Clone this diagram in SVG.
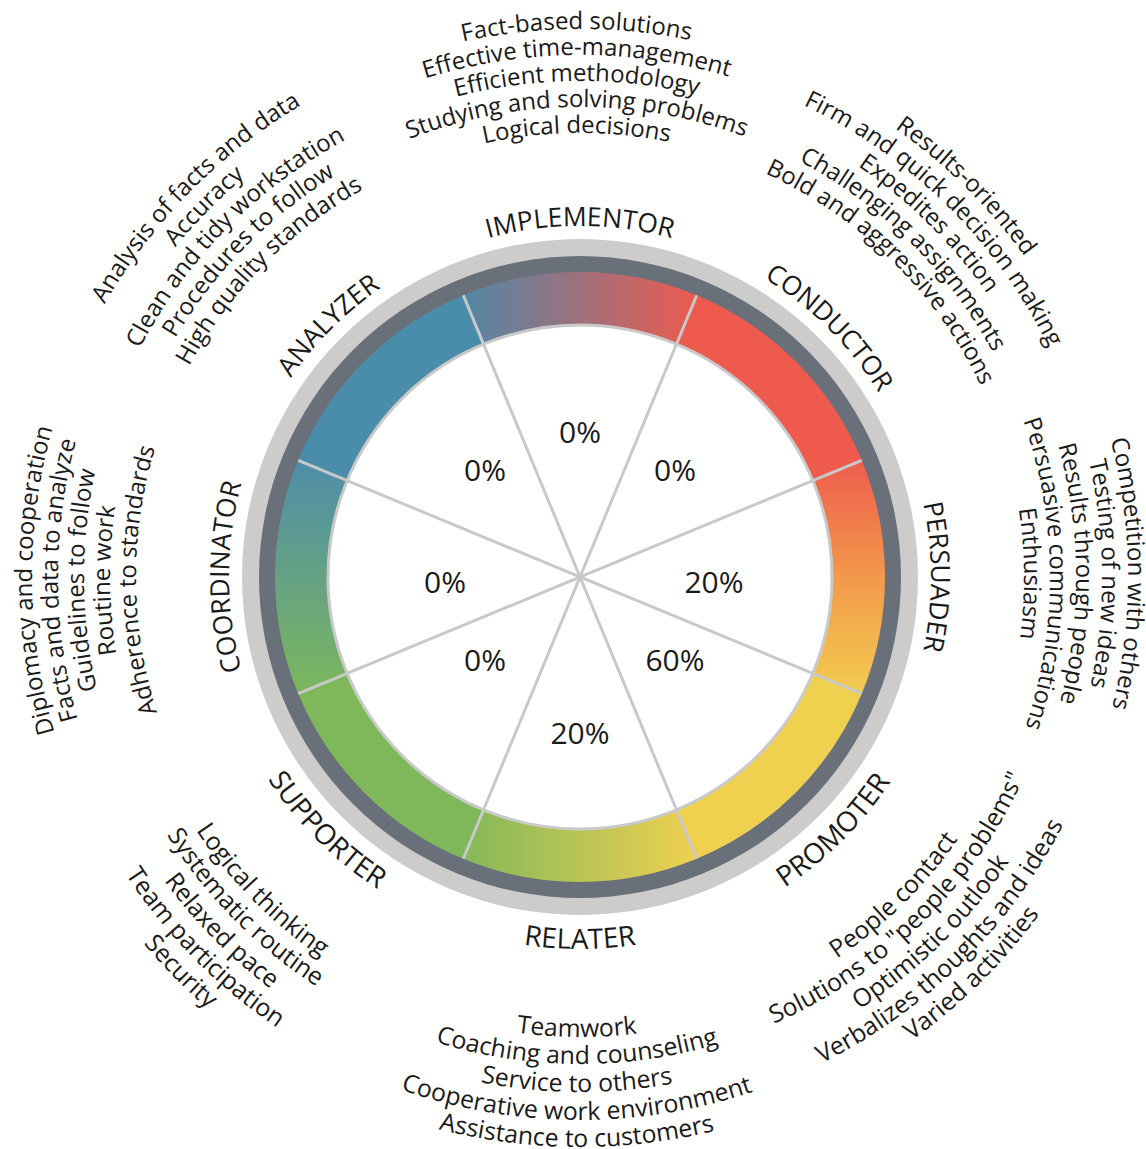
<svg xmlns="http://www.w3.org/2000/svg" width="1146" height="1149" viewBox="0 0 1146 1149">
<style>
  text{font-family:"Open Sans","Liberation Sans",sans-serif;fill:#1a1a1a}
  .lbl{font-size:26.5px}
  .lblb{font-size:28px}
  .desc{font-size:24px}
  .descb{font-size:24.8px}
  .pct{font-size:30px;text-anchor:middle}
  .sep{stroke:#c9c9c9;stroke-width:3;fill:none}
  textPath{text-anchor:middle}
</style>
<defs>
  <linearGradient id="gImp" gradientUnits="userSpaceOnUse" x1="463" y1="0" x2="697" y2="0">
    <stop offset="0" stop-color="#5187a7"/><stop offset="1" stop-color="#ee5a4f"/>
  </linearGradient>
  <linearGradient id="gPer" gradientUnits="userSpaceOnUse" x1="0" y1="460" x2="0" y2="694">
    <stop offset="0" stop-color="#ee5c4e"/><stop offset="0.5" stop-color="#f3994b"/><stop offset="1" stop-color="#f1cc4f"/>
  </linearGradient>
  <linearGradient id="gRel" gradientUnits="userSpaceOnUse" x1="463" y1="0" x2="697" y2="0">
    <stop offset="0" stop-color="#83b95a"/><stop offset="1" stop-color="#efd050"/>
  </linearGradient>
  <linearGradient id="gCoo" gradientUnits="userSpaceOnUse" x1="0" y1="460" x2="0" y2="694">
    <stop offset="0" stop-color="#4e8dab"/><stop offset="1" stop-color="#7cb75c"/>
  </linearGradient>
  <path id="cw351" d="M234.33,516.05 A351,351 0 0 1 925.67,516.05"/>
  <path id="cw548" d="M40.32,481.84 A548,548 0 0 1 1119.68,481.84"/>
  <path id="cw522" d="M65.93,486.35 A522,522 0 0 1 1094.07,486.35"/>
  <path id="cw496" d="M91.53,490.87 A496,496 0 0 1 1068.47,490.87"/>
  <path id="cw470" d="M117.14,495.38 A470,470 0 0 1 1042.86,495.38"/>
  <path id="cw444" d="M142.74,499.90 A444,444 0 0 1 1017.26,499.90"/>
  <path id="ccw372" d="M213.65,641.60 A372,372 0 0 0 946.35,641.60"/>
  <path id="ccw460" d="M126.99,656.88 A460,460 0 0 0 1033.01,656.88"/>
  <path id="ccw487" d="M100.40,661.57 A487,487 0 0 0 1059.60,661.57"/>
  <path id="ccw515" d="M72.82,666.43 A515,515 0 0 0 1087.18,666.43"/>
  <path id="ccw543" d="M45.25,671.29 A543,543 0 0 0 1114.75,671.29"/>
  <path id="ccw570" d="M18.66,675.98 A570,570 0 0 0 1141.34,675.98"/>
</defs>
<rect width="1146" height="1149" fill="#ffffff"/>

<g id="wheel">
  <circle cx="580" cy="577" r="338" fill="#cdcccb"/>
  <circle cx="580" cy="577" r="321" fill="#69707a"/>
  <circle cx="580" cy="577" r="252" fill="#ffffff"/>
</g>

<g id="implementor">
  <path d="M463.28,295.22 A305,305 0 0 1 696.72,295.22 L676.43,344.18 A252,252 0 0 0 483.57,344.18 Z" fill="url(#gImp)"/>
  <text class="pct" x="580" y="443">0%</text>
  <text class="lbl"><textPath href="#cw351" startOffset="50%">IMPLEMENTOR</textPath></text>
  <text class="desc"><textPath href="#cw548" startOffset="761.65">Fact-based solutions</textPath></text>
  <text class="desc"><textPath href="#cw522" startOffset="725.35">Effective time-management</textPath></text>
  <text class="desc"><textPath href="#cw496" startOffset="689.05">Efficient methodology</textPath></text>
  <text class="desc"><textPath href="#cw470" startOffset="652.74">Studying and solving problems</textPath></text>
  <text class="desc"><textPath href="#cw444" startOffset="616.44">Logical decisions</textPath></text>
</g>

<g id="conductor">
  <path d="M696.72,295.22 A305,305 0 0 1 861.78,460.28 L812.82,480.57 A252,252 0 0 0 676.43,344.18 Z" fill="#ef5a4e"/>
  <text class="pct" x="675" y="481">0%</text>
  <g transform="rotate(45 580 577)">
    <text class="lbl"><textPath href="#cw351" startOffset="50%">CONDUCTOR</textPath></text>
    <text class="desc"><textPath href="#cw548" startOffset="761.65">Results-oriented</textPath></text>
    <text class="desc"><textPath href="#cw522" startOffset="725.35">Firm and quick decision making</textPath></text>
    <text class="desc"><textPath href="#cw496" startOffset="689.05">Expedites action</textPath></text>
    <text class="desc"><textPath href="#cw470" startOffset="652.74">Challenging assignments</textPath></text>
    <text class="desc"><textPath href="#cw444" startOffset="616.44">Bold and aggressive actions</textPath></text>
  </g>
</g>

<g id="persuader">
  <path d="M861.78,460.28 A305,305 0 0 1 861.78,693.72 L812.82,673.43 A252,252 0 0 0 812.82,480.57 Z" fill="url(#gPer)"/>
  <text class="pct" x="714" y="593">20%</text>
  <g transform="rotate(90 580 577)">
    <text class="lbl"><textPath href="#cw351" startOffset="50%">PERSUADER</textPath></text>
    <text class="desc"><textPath href="#cw548" startOffset="761.65">Competition with others</textPath></text>
    <text class="desc"><textPath href="#cw522" startOffset="725.35">Testing of new ideas</textPath></text>
    <text class="desc"><textPath href="#cw496" startOffset="689.05">Results through people</textPath></text>
    <text class="desc"><textPath href="#cw470" startOffset="652.74">Persuasive communications</textPath></text>
    <text class="desc"><textPath href="#cw444" startOffset="616.44">Enthusiasm</textPath></text>
  </g>
</g>

<g id="promoter">
  <path d="M861.78,693.72 A305,305 0 0 1 696.72,858.78 L676.43,809.82 A252,252 0 0 0 812.82,673.43 Z" fill="#f0d14f"/>
  <text class="pct" x="675" y="671">60%</text>
  <g transform="rotate(-45 580 577)">
    <text class="lblb"><textPath href="#ccw372" startOffset="50%">PROMOTER</textPath></text>
    <text class="descb"><textPath href="#ccw460" startOffset="638.78">People contact</textPath></text>
    <text class="descb"><textPath href="#ccw487" startOffset="676.48">Solutions to "people problems"</textPath></text>
    <text class="descb"><textPath href="#ccw515" startOffset="715.58">Optimistic outlook</textPath></text>
    <text class="descb"><textPath href="#ccw543" startOffset="754.67">Verbalizes thoughts and ideas</textPath></text>
    <text class="descb"><textPath href="#ccw570" startOffset="792.37">Varied activities</textPath></text>
  </g>
</g>

<g id="relater">
  <path d="M696.72,858.78 A305,305 0 0 1 463.28,858.78 L483.57,809.82 A252,252 0 0 0 676.43,809.82 Z" fill="url(#gRel)"/>
  <text class="pct" x="580" y="744">20%</text>
  <text class="lblb"><textPath href="#ccw372" startOffset="50%">RELATER</textPath></text>
  <text class="descb"><textPath href="#ccw460" startOffset="638.78">Teamwork</textPath></text>
  <text class="descb"><textPath href="#ccw487" startOffset="676.48">Coaching and counseling</textPath></text>
  <text class="descb"><textPath href="#ccw515" startOffset="715.58">Service to others</textPath></text>
  <text class="descb"><textPath href="#ccw543" startOffset="754.67">Cooperative work environment</textPath></text>
  <text class="descb"><textPath href="#ccw570" startOffset="792.37">Assistance to customers</textPath></text>
</g>

<g id="supporter">
  <path d="M463.28,858.78 A305,305 0 0 1 298.22,693.72 L347.18,673.43 A252,252 0 0 0 483.57,809.82 Z" fill="#7eb85b"/>
  <text class="pct" x="485" y="671">0%</text>
  <g transform="rotate(45 580 577)">
    <text class="lblb"><textPath href="#ccw372" startOffset="50%">SUPPORTER</textPath></text>
    <text class="descb"><textPath href="#ccw460" startOffset="638.78">Logical thinking</textPath></text>
    <text class="descb"><textPath href="#ccw487" startOffset="676.48">Systematic routine</textPath></text>
    <text class="descb"><textPath href="#ccw515" startOffset="715.58">Relaxed pace</textPath></text>
    <text class="descb"><textPath href="#ccw543" startOffset="754.67">Team participation</textPath></text>
    <text class="descb"><textPath href="#ccw570" startOffset="792.37">Security</textPath></text>
  </g>
</g>

<g id="coordinator">
  <path d="M298.22,693.72 A305,305 0 0 1 298.22,460.28 L347.18,480.57 A252,252 0 0 0 347.18,673.43 Z" fill="url(#gCoo)"/>
  <text class="pct" x="445" y="593">0%</text>
  <g transform="rotate(-90 580 577)">
    <text class="lbl"><textPath href="#cw351" startOffset="50%">COORDINATOR</textPath></text>
    <text class="desc"><textPath href="#cw548" startOffset="761.65">Diplomacy and cooperation</textPath></text>
    <text class="desc"><textPath href="#cw522" startOffset="725.35">Facts and data to analyze</textPath></text>
    <text class="desc"><textPath href="#cw496" startOffset="689.05">Guidelines to follow</textPath></text>
    <text class="desc"><textPath href="#cw470" startOffset="652.74">Routine work</textPath></text>
    <text class="desc"><textPath href="#cw444" startOffset="616.44">Adherence to standards</textPath></text>
  </g>
</g>

<g id="analyzer">
  <path d="M298.22,460.28 A305,305 0 0 1 463.28,295.22 L483.57,344.18 A252,252 0 0 0 347.18,480.57 Z" fill="#4a8dab"/>
  <text class="pct" x="485" y="481">0%</text>
  <g transform="rotate(-45 580 577)">
    <text class="lbl"><textPath href="#cw351" startOffset="50%">ANALYZER</textPath></text>
    <text class="desc"><textPath href="#cw548" startOffset="761.65">Analysis of facts and data</textPath></text>
    <text class="desc"><textPath href="#cw522" startOffset="725.35">Accuracy</textPath></text>
    <text class="desc"><textPath href="#cw496" startOffset="689.05">Clean and tidy workstation</textPath></text>
    <text class="desc"><textPath href="#cw470" startOffset="652.74">Procedures to follow</textPath></text>
    <text class="desc"><textPath href="#cw444" startOffset="616.44">High quality standards</textPath></text>
  </g>
</g>

<g id="connectors">
  <circle cx="580" cy="577" r="252" fill="none" stroke="#c9c9c9" stroke-width="3"/>
  <line class="sep" x1="463.28" y1="295.22" x2="696.72" y2="858.78"/>
  <line class="sep" x1="696.72" y1="295.22" x2="463.28" y2="858.78"/>
  <line class="sep" x1="861.78" y1="460.28" x2="298.22" y2="693.72"/>
  <line class="sep" x1="861.78" y1="693.72" x2="298.22" y2="460.28"/>
</g>
</svg>
